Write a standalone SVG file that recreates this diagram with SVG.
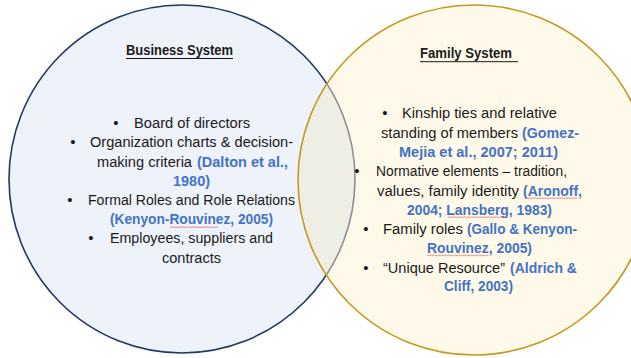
<svg xmlns="http://www.w3.org/2000/svg" width="631" height="358" viewBox="0 0 631 358">
  <style>
    .t { font-family: "Liberation Sans", Arial, sans-serif; font-size: 15.5px; fill: #1a1a1a; }
    .ref { font-weight: bold; fill: #4472C4; }
    .title { font-family: "Liberation Sans", Arial, sans-serif; font-size: 14px; font-weight: bold; fill: #1a1a1a; }
    .bul { font-family: "Liberation Sans", Arial, sans-serif; font-size: 15px; fill: #1a1a1a; text-anchor: middle; }
    .uline { stroke: #1a1a1a; stroke-width: 1; }
    .squig { fill: none; stroke: #E0544F; stroke-width: 0.8; opacity: 0.8; }
  </style>
  <defs>
    <clipPath id="familyClip">
      <ellipse cx="474" cy="180" rx="176" ry="175"/>
    </clipPath>
  </defs>

  <rect width="631" height="358" fill="#ffffff"/>

  <!-- Business system circle -->
  <g id="business">
    <ellipse cx="182" cy="179" rx="173" ry="174" fill="#EEF2FA" stroke="#1F3864" stroke-width="1.6"/>
  </g>

  <!-- Family system circle (fill), overlap lens, then its outline on top -->
  <g id="family">
    <ellipse cx="474" cy="180" rx="176" ry="175" fill="#FFF9E9"/>
  </g>
  <g id="overlap" clip-path="url(#familyClip)">
    <ellipse cx="182" cy="179" rx="173" ry="174" fill="#EFEEE5" stroke="#8A8F99" stroke-width="1.6"/>
  </g>
  <g id="family-outline">
    <ellipse cx="474" cy="180" rx="176" ry="175" fill="none" stroke="#C49A1E" stroke-width="1.6"/>
  </g>

  <!-- Business system texts -->
  <g id="business-text">
    <text class="title" x="126" y="55" textLength="107" lengthAdjust="spacingAndGlyphs">Business System</text>
    <line class="uline" x1="126" y1="58.5" x2="233" y2="58.5"/>

    <text class="bul" x="116" y="128">•</text>
    <text class="t" x="134" y="128" textLength="116" lengthAdjust="spacingAndGlyphs">Board of directors</text>

    <text class="bul" x="73" y="147.3">•</text>
    <text class="t" x="90" y="147.3" textLength="203" lengthAdjust="spacingAndGlyphs">Organization charts &amp; decision-</text>
    <text class="t" x="97" y="166.5" textLength="95" lengthAdjust="spacingAndGlyphs">making criteria</text>
    <text class="t ref" x="197" y="166.5" textLength="91" lengthAdjust="spacingAndGlyphs">(Dalton et al.,</text>
    <text class="t ref" x="173" y="185.7" textLength="37" lengthAdjust="spacingAndGlyphs">1980)</text>

    <text class="bul" x="70" y="205">•</text>
    <text class="t" x="88" y="205" textLength="207" lengthAdjust="spacingAndGlyphs">Formal Roles and Role Relations</text>
    <text class="t ref" x="110" y="224.2" textLength="163" lengthAdjust="spacingAndGlyphs">(Kenyon-Rouvinez, 2005)</text>
    <path class="squig" d="M170 227.7 l1.5 -1 l1.5 1 l1.5 -1 l1.5 1 l1.5 -1 l1.5 1 l1.5 -1 l1.5 1 l1.5 -1 l1.5 1 l1.5 -1 l1.5 1 l1.5 -1 l1.5 1 l1.5 -1 l1.5 1 l1.5 -1 l1.5 1 l1.5 -1 l1.5 1 l1.5 -1 l1.5 1 l1.5 -1 l1.5 1 l1.5 -1 l1.5 1 l1.5 -1 l1.5 1 l1.5 -1 l1.5 1 l1.5 -1 l1.5 1"/>

    <text class="bul" x="91" y="243.4">•</text>
    <text class="t" x="110" y="243.4" textLength="163" lengthAdjust="spacingAndGlyphs">Employees, suppliers and</text>
    <text class="t" x="162" y="262.6" textLength="59" lengthAdjust="spacingAndGlyphs">contracts</text>
  </g>

  <!-- Family system texts -->
  <g id="family-text">
    <text class="title" x="420" y="58.3" textLength="92" lengthAdjust="spacingAndGlyphs">Family System</text>
    <line class="uline" x1="420" y1="61.7" x2="518" y2="61.7"/>

    <text class="bul" x="385" y="118.3">•</text>
    <text class="t" x="402" y="118.3" textLength="155" lengthAdjust="spacingAndGlyphs">Kinship ties and relative</text>
    <text class="t" x="381" y="137.5" textLength="137" lengthAdjust="spacingAndGlyphs">standing of members</text>
    <text class="t ref" x="522" y="137.5" textLength="57" lengthAdjust="spacingAndGlyphs">(Gomez-</text>
    <text class="t ref" x="399" y="156.7" textLength="159" lengthAdjust="spacingAndGlyphs">Mejia et al., 2007; 2011)</text>

    <text class="bul" x="357" y="176">•</text>
    <text class="t" x="376" y="176" textLength="191" lengthAdjust="spacingAndGlyphs">Normative elements – tradition,</text>
    <text class="t" x="377" y="195.5" textLength="142" lengthAdjust="spacingAndGlyphs">values, family identity</text>
    <text class="t ref" x="523" y="195.5" textLength="59" lengthAdjust="spacingAndGlyphs">(Aronoff,</text>
    <path class="squig" d="M528 198.7 l1.5 -1 l1.5 1 l1.5 -1 l1.5 1 l1.5 -1 l1.5 1 l1.5 -1 l1.5 1 l1.5 -1 l1.5 1 l1.5 -1 l1.5 1 l1.5 -1 l1.5 1 l1.5 -1 l1.5 1 l1.5 -1 l1.5 1 l1.5 -1 l1.5 1 l1.5 -1 l1.5 1 l1.5 -1 l1.5 1 l1.5 -1 l1.5 1 l1.5 -1 l1.5 1 l1.5 -1 l1.5 1 l1.5 -1 l1.5 1 l1.5 -1"/>
    <text class="t ref" x="407" y="214.5" textLength="145" lengthAdjust="spacingAndGlyphs">2004; Lansberg, 1983)</text>
    <path class="squig" d="M448 217.7 l1.5 -1 l1.5 1 l1.5 -1 l1.5 1 l1.5 -1 l1.5 1 l1.5 -1 l1.5 1 l1.5 -1 l1.5 1 l1.5 -1 l1.5 1 l1.5 -1 l1.5 1 l1.5 -1 l1.5 1 l1.5 -1 l1.5 1 l1.5 -1 l1.5 1 l1.5 -1 l1.5 1 l1.5 -1 l1.5 1 l1.5 -1 l1.5 1 l1.5 -1 l1.5 1 l1.5 -1 l1.5 1 l1.5 -1 l1.5 1 l1.5 -1 l1.5 1 l1.5 -1 l1.5 1 l1.5 -1 l1.5 1 l1.5 -1 l1.5 1"/>

    <text class="bul" x="366" y="234">•</text>
    <text class="t" x="383" y="234" textLength="80" lengthAdjust="spacingAndGlyphs">Family roles</text>
    <text class="t ref" x="467" y="234" textLength="110" lengthAdjust="spacingAndGlyphs">(Gallo &amp; Kenyon-</text>
    <text class="t ref" x="427" y="253" textLength="105" lengthAdjust="spacingAndGlyphs">Rouvinez, 2005)</text>
    <path class="squig" d="M427 256 l1.5 -1 l1.5 1 l1.5 -1 l1.5 1 l1.5 -1 l1.5 1 l1.5 -1 l1.5 1 l1.5 -1 l1.5 1 l1.5 -1 l1.5 1 l1.5 -1 l1.5 1 l1.5 -1 l1.5 1 l1.5 -1 l1.5 1 l1.5 -1 l1.5 1 l1.5 -1 l1.5 1 l1.5 -1 l1.5 1 l1.5 -1 l1.5 1 l1.5 -1 l1.5 1 l1.5 -1 l1.5 1 l1.5 -1 l1.5 1 l1.5 -1 l1.5 1 l1.5 -1 l1.5 1 l1.5 -1 l1.5 1 l1.5 -1 l1.5 1 l1.5 -1"/>

    <text class="bul" x="366" y="272.5">•</text>
    <text class="t" x="383" y="272.5" textLength="122" lengthAdjust="spacingAndGlyphs">“Unique Resource”</text>
    <text class="t ref" x="510" y="272.5" textLength="67" lengthAdjust="spacingAndGlyphs">(Aldrich &amp;</text>
    <text class="t ref" x="444" y="291" textLength="69" lengthAdjust="spacingAndGlyphs">Cliff, 2003)</text>
  </g>
</svg>
